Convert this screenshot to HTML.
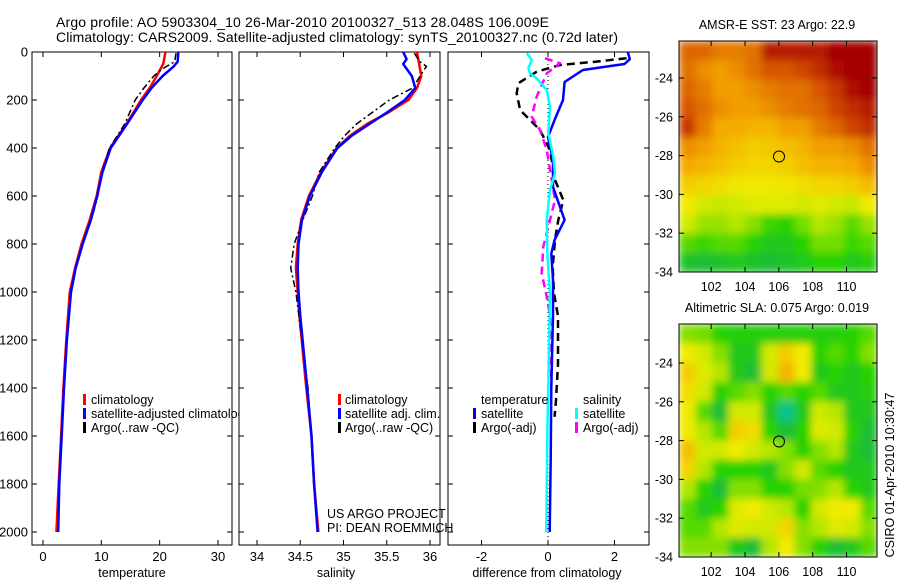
<!DOCTYPE html>
<html><head><meta charset="utf-8"><style>
html,body{margin:0;padding:0;background:#fff;}
svg{display:block;font-family:"Liberation Sans",Arial,sans-serif;}
</style></head><body>
<svg id="chart" width="900" height="580" viewBox="0 0 900 580" xmlns="http://www.w3.org/2000/svg">
<defs><clipPath id="clipP1"><rect x="32" y="40" width="207" height="520"/></clipPath>
<clipPath id="clipM1"><rect x="679" y="41" width="198" height="231"/></clipPath>
<clipPath id="clipM2"><rect x="679" y="324" width="198" height="233"/></clipPath>
<filter id="soft" x="0" y="0" width="1" height="1"><feGaussianBlur stdDeviation="4" edgeMode="duplicate"/></filter></defs>
<text x="56" y="27" font-size="14" textLength="493">Argo profile: AO 5903304_10 26-Mar-2010 20100327_513 28.048S 106.009E</text>
<text x="56" y="42" font-size="14" textLength="562">Climatology: CARS2009. Satellite-adjusted climatology: synTS_20100327.nc (0.72d later)</text>
<g id="g"></g>
</svg>
<script>
// ---------- data ----------
const depthTicks=[0,200,400,600,800,1000,1200,1400,1600,1800,2000];
const tempTicks=[0,10,20,30];
const salTicks=[34,34.5,35,35.5,36];
const diffTicks=[-2,0,2];
const latTicks=[-24,-26,-28,-30,-32,-34];
const lonTicks=[102,104,106,108,110];

const tClimD=[0,50,100,150,200,300,400,500,600,700,800,900,1000,1200,1400,1600,1800,2000];
const tClimV=[21.0,20.6,19.5,18.3,16.8,14.3,11.5,10.0,9.2,8.0,6.6,5.5,4.6,4.0,3.5,3.1,2.7,2.3];
const tSatD=[0,40,60,100,150,200,300,400,500,600,700,800,900,1000,1200,1400,1600,1800,2000];
const tSatV=[23.2,23.1,22.4,20.5,18.6,17.1,14.4,11.6,10.2,9.3,8.2,6.8,5.6,4.8,4.1,3.6,3.2,2.8,2.6];
const tArgoD=[5,40,70,100,150,200,300,400,500,600,700,800,900,1000,1200,1400,1600,1800,2000];
const tArgoV=[22.8,22.6,20.5,19.0,17.3,15.8,14.0,11.4,10.1,9.4,8.3,6.7,5.6,4.7,4.1,3.6,3.2,2.8,2.6];

const sClimD=[0,100,150,200,250,300,350,400,500,600,700,800,900,1000,1100,1400,1600,1800,2000];
const sClimV=[35.85,35.90,35.85,35.75,35.53,35.27,35.07,34.92,34.74,34.60,34.51,34.47,34.45,34.47,34.49,34.57,34.63,34.66,34.71];
const sSatD=[0,30,50,100,150,200,250,300,350,400,500,600,700,800,900,1000,1100,1400,1600,1800,2000];
const sSatV=[35.69,35.73,35.69,35.79,35.83,35.71,35.51,35.30,35.09,34.93,34.75,34.61,34.52,34.48,34.47,34.48,34.50,34.58,34.63,34.66,34.70];
const sArgoD=[5,40,60,80,150,200,250,300,350,400,500,600,700,800,900,1000,1200,1400,1550];
const sArgoV=[35.82,35.88,35.96,35.92,35.80,35.53,35.34,35.15,35.01,34.90,34.72,34.64,34.53,34.43,34.39,34.45,34.52,34.59,34.62];

const dTsatD=[0,30,50,75,125,200,283,354,450,562,700,783,840,950,1100,1400,1700,2000];
const dTsatV=[2.4,2.46,2.3,1.05,0.5,0.45,0.2,0.0,0.15,0.15,0.5,0.2,0.1,0.15,0.15,0.1,0.08,0.05];
const dTargoD=[26,40,54,82,130,172,242,283,325,408,533,617,700,783,894,1006,1100,1300,1450,1520];
const dTargoV=[2.36,1.46,0.36,-0.34,-0.89,-0.94,-0.84,-0.54,-0.24,0.06,0.21,0.46,0.31,0.21,0.14,0.18,0.3,0.3,0.24,0.2];
const dSsatD=[5,33,68,89,110,158,228,339,436,506,575,700,840,1006,1300,1600,2000];
const dSsatV=[-0.64,-0.49,-0.59,-0.54,-0.34,-0.04,0.06,0.01,0.16,0.21,0.06,-0.04,-0.02,0.06,0.02,-0.02,-0.05];
const dSargoD=[26,47,89,186,269,325,408,533,617,700,811,922,1019,1100,1250,1400];
const dSargoV=[-0.09,0.36,-0.04,-0.34,-0.49,-0.24,-0.04,0.11,0.21,0.06,-0.14,-0.19,-0.04,0.06,0.08,0.1];

const sstGrid=[
[0.82,0.82,0.78,0.78,0.8,0.95,0.95,0.95,0.95,1.0,1.0,1.0],
[0.8,0.75,0.72,0.75,0.8,0.85,0.85,0.88,0.92,0.98,1.0,1.0],
[0.82,0.78,0.72,0.72,0.75,0.78,0.8,0.8,0.85,0.9,0.98,1.0],
[0.85,0.8,0.75,0.72,0.72,0.75,0.78,0.8,0.82,0.88,0.92,0.95],
[0.9,0.78,0.7,0.7,0.68,0.68,0.72,0.72,0.78,0.82,0.88,0.92],
[0.75,0.72,0.68,0.65,0.62,0.63,0.65,0.68,0.72,0.72,0.75,0.8],
[0.7,0.68,0.65,0.62,0.6,0.6,0.62,0.65,0.68,0.68,0.7,0.75],
[0.62,0.6,0.58,0.56,0.55,0.56,0.56,0.58,0.6,0.6,0.62,0.66],
[0.55,0.5,0.48,0.5,0.52,0.52,0.52,0.5,0.52,0.5,0.48,0.55],
[0.5,0.42,0.42,0.45,0.4,0.32,0.3,0.38,0.45,0.42,0.35,0.42],
[0.35,0.32,0.35,0.35,0.3,0.25,0.25,0.3,0.38,0.38,0.32,0.35],
[0.22,0.2,0.22,0.25,0.22,0.2,0.22,0.25,0.3,0.3,0.25,0.28]];
const slaGrid=[
[0.4,0.38,0.3,0.28,0.28,0.28,0.28,0.28,0.28,0.28,0.3,0.35],
[0.55,0.5,0.4,0.25,0.25,0.5,0.62,0.55,0.3,0.35,0.3,0.4],
[0.62,0.52,0.45,0.25,0.2,0.5,0.68,0.55,0.25,0.3,0.25,0.3],
[0.58,0.5,0.3,0.35,0.4,0.3,0.35,0.3,0.35,0.25,0.25,0.28],
[0.55,0.35,0.2,0.5,0.5,0.25,0.05,0.25,0.5,0.45,0.25,0.25],
[0.55,0.45,0.35,0.62,0.58,0.3,0.2,0.3,0.52,0.5,0.3,0.2],
[0.65,0.5,0.5,0.55,0.5,0.45,0.4,0.3,0.4,0.45,0.25,0.2],
[0.6,0.45,0.3,0.3,0.3,0.25,0.4,0.5,0.35,0.3,0.25,0.25],
[0.45,0.3,0.2,0.4,0.4,0.3,0.3,0.38,0.4,0.45,0.3,0.25],
[0.35,0.25,0.3,0.52,0.55,0.5,0.45,0.3,0.5,0.55,0.55,0.35],
[0.35,0.35,0.45,0.52,0.5,0.5,0.6,0.4,0.45,0.52,0.5,0.4],
[0.4,0.4,0.4,0.25,0.2,0.45,0.55,0.4,0.3,0.2,0.25,0.35]];
const argoLon=106.009, argoLat=-28.048;

// ---------- helpers ----------
const NS="http://www.w3.org/2000/svg";
const G=document.getElementById('g');
function mk(tag,attrs,parent){const e=document.createElementNS(NS,tag);for(const k in attrs)e.setAttribute(k,attrs[k]);(parent||G).appendChild(e);return e;}
const yD=d=>52+d*0.24;
const xT=t=>43+t*5.833;
const xS=s=>257+(s-34)*86.5;
const xDf=v=>548+v*33.25;
const LON0=100.1,LON1=111.8;
const xLon=l=>679+(l-LON0)*(198/(LON1-LON0));
const yLat1=l=>272-(l+34)*19.4;
const yLat2=l=>557-(l+34)*19.4;

const panels=[{x0:32,x1:232,name:'temperature-panel'},{x0:239,x1:440,name:'salinity-panel'},{x0:448,x1:649,name:'difference-panel'}];
panels.forEach(p=>{
  const r=mk('rect',{x:p.x0,y:52,width:p.x1-p.x0,height:493,fill:'none',stroke:'#000','stroke-width':1});
  
  
  depthTicks.forEach(d=>{
    mk('line',{x1:p.x0,x2:p.x0+5,y1:yD(d),y2:yD(d),stroke:'#000'});
    mk('line',{x1:p.x1-5,x2:p.x1,y1:yD(d),y2:yD(d),stroke:'#000'});
  });
});
depthTicks.forEach(d=>{
  const t=mk('text',{x:28,y:yD(d)+4.5,'font-size':13,'text-anchor':'end'});t.textContent=d;
  
  
});
function xticks(ticks,fx,name){
  ticks.forEach(v=>{
    const x=fx(v);
    mk('line',{x1:x,x2:x,y1:52,y2:57,stroke:'#000'});
    mk('line',{x1:x,x2:x,y1:540,y2:545,stroke:'#000'});
    const t=mk('text',{x:x,y:561,'font-size':13,'text-anchor':'middle'});t.textContent=v;
    
    
  });
}
xticks(tempTicks,xT,'temperature-tick-label');
xticks(salTicks,xS,'salinity-tick-label');
xticks(diffTicks,xDf,'difference-tick-label');
[['temperature',132,'x-axis-title-temperature'],['salinity',336,'x-axis-title-salinity'],['difference from climatology',547,'x-axis-title-difference']].forEach(a=>{
  const t=mk('text',{x:a[1],y:577,'font-size':12.5,'text-anchor':'middle'});t.textContent=a[0];
  
  
});
const zl=mk('line',{x1:xDf(0),x2:xDf(0),y1:52,y2:545,stroke:'#000','stroke-width':1,'stroke-dasharray':'1,3'});



function series(D,V,fx,color,w,dash,name){
  const pts=D.map((d,i)=>fx(V[i]).toFixed(1)+','+yD(d).toFixed(1)).join(' ');
  const a={points:pts,fill:'none',stroke:color,'stroke-width':w,'stroke-linejoin':'round'};
  if(dash)a['stroke-dasharray']=dash;
  const e=mk('polyline',a);
  
  
}
series(tClimD,tClimV,xT,'#ff0000',2.5,null,'temperature-climatology-line');
series(tArgoD,tArgoV,xT,'#000',1.5,'7,3,2,3','temperature-argo-line');
series(tSatD,tSatV,xT,'#0000ff',2.5,null,'temperature-satellite-line');
series(sClimD,sClimV,xS,'#ff0000',2.5,null,'salinity-climatology-line');
series(sArgoD,sArgoV,xS,'#000',1.5,'7,3,2,3','salinity-argo-line');
series(sSatD,sSatV,xS,'#0000ff',2.5,null,'salinity-satellite-line');
series(dTargoD,dTargoV,xDf,'#000',2.5,'8,5','diff-temperature-argo-line');
series(dSargoD,dSargoV,xDf,'#ff00ff',2.5,'8,5','diff-salinity-argo-line');
series(dTsatD,dTsatV,xDf,'#0000ff',2.5,null,'diff-temperature-satellite-line');
series(dSsatD,dSsatV,xDf,'#00ffff',2.5,null,'diff-salinity-satellite-line');

function leg(bx,tx,y,color,label,clip){
  if(color){const b=mk('rect',{x:bx,y:y-10,width:3,height:11,fill:color});
    
    }
  const a={x:tx,y:y,'font-size':12.5};if(clip)a['clip-path']='url(#clipP1)';
  const t=mk('text',a);t.textContent=label;
  
  
}
const LY=[404,418,432];
leg(83,91,LY[0],'#ff0000','climatology');
leg(83,91,LY[1],'#0000ff','satellite-adjusted climatology',true);
leg(83,91,LY[2],'#000','Argo(..raw -QC)');
leg(338,345,LY[0],'#ff0000','climatology');
leg(338,345,LY[1],'#0000ff','satellite adj. clim.');
leg(338,345,LY[2],'#000','Argo(..raw -QC)');
leg(0,481,LY[0],null,'temperature');
leg(473,481,LY[1],'#0000ff','satellite');
leg(473,481,LY[2],'#000','Argo(-adj)');
leg(0,583,LY[0],null,'salinity');
leg(575,583,LY[1],'#00ffff','satellite');
leg(575,583,LY[2],'#ff00ff','Argo(-adj)');
[['US ARGO PROJECT',518],['PI: DEAN ROEMMICH',532]].forEach(a=>{
  const t=mk('text',{x:327,y:a[1],'font-size':12.5});t.textContent=a[0];
  
  
});

const stops=[[0,[0,200,170]],[0.15,[20,180,80]],[0.3,[40,210,0]],[0.45,[180,230,0]],[0.55,[240,235,0]],[0.7,[245,170,0]],[0.85,[215,85,0]],[1,[165,0,0]]];
function cmap(v){
  for(let i=1;i<stops.length;i++){if(v<=stops[i][0]){const a=stops[i-1],b=stops[i];const f=(v-a[0])/(b[0]-a[0]);
    const c=a[1].map((x,k)=>Math.round(x+(b[1][k]-x)*f));return 'rgb('+c.join(',')+')';}}
  return 'rgb(165,0,0)';
}
function drawMap(grid,yLat,top,bot,name,title,clip){
  const latTop=-34+(bot-top)/19.4;
  const nr=grid.length,nc=grid[0].length;
  const dLon=(LON1-LON0)/nc,dLat=(latTop+34)/nr;
  const outer=mk('g',{'clip-path':'url(#'+clip+')'});
  const g=mk('g',{filter:'url(#soft)'},outer);
  
  
  grid.forEach((row,r)=>row.forEach((v,c)=>{
    const x0=xLon(LON0+c*dLon),x1=xLon(LON0+(c+1)*dLon);
    const y0=yLat(latTop-r*dLat),y1=yLat(latTop-(r+1)*dLat);
    const cell=mk('rect',{x:x0,y:y0,width:x1-x0+0.6,height:y1-y0+0.6,fill:cmap(v)},g);
    
    
  }));
  const f=mk('rect',{x:679,y:top,width:198,height:bot-top,fill:'none',stroke:'#000'});
  
  
  latTicks.forEach(l=>{const y=yLat(l);
    mk('line',{x1:679,x2:684,y1:y,y2:y,stroke:'#000'});mk('line',{x1:872,x2:877,y1:y,y2:y,stroke:'#000'});
    const t=mk('text',{x:673,y:y+4.5,'font-size':12.5,'text-anchor':'end'});t.textContent=l;
    
    });
  lonTicks.forEach(l=>{const x=xLon(l);
    mk('line',{x1:x,x2:x,y1:top,y2:top+5,stroke:'#000'});mk('line',{x1:x,x2:x,y1:bot-5,y2:bot,stroke:'#000'});
    const t=mk('text',{x:x,y:bot+19,'font-size':12.5,'text-anchor':'middle'});t.textContent=l;
    
    });
  const c=mk('circle',{cx:xLon(argoLon),cy:yLat(argoLat),r:5.5,fill:'none',stroke:'#000','stroke-width':1});
  
  
  const t=mk('text',{x:777,y:top-12,'font-size':12.5,'text-anchor':'middle'});t.textContent=title;
  
  
}
drawMap(sstGrid,yLat1,41,272,'sst-map','AMSR-E SST: 23 Argo: 22.9','clipM1');
drawMap(slaGrid,yLat2,324,557,'sla-map','Altimetric SLA: 0.075 Argo: 0.019','clipM2');
const ts=mk('text',{x:0,y:0,'font-size':12.5,'text-anchor':'middle',transform:'translate(894,475) rotate(-90)'});
ts.textContent='CSIRO 01-Apr-2010 10:30:47';


</script>
</body></html>
